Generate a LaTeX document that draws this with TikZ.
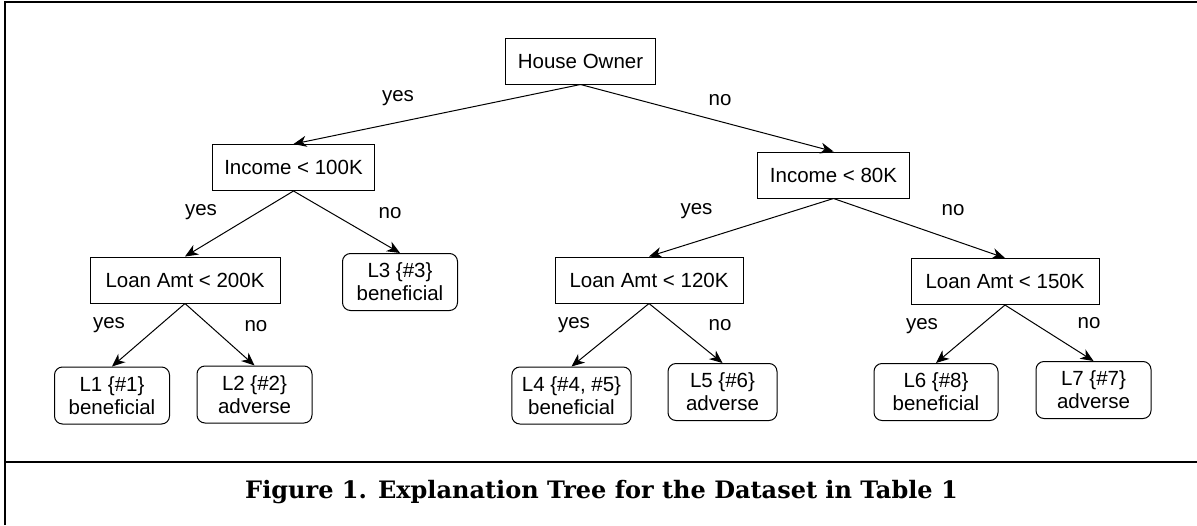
\documentclass[tikz,border=0pt]{standalone}
\usepackage{fontspec}
\setsansfont{Liberation Sans}
\newfontfamily\capfont{DejaVu Serif}
\usepackage{tikz}
\usetikzlibrary{arrows.meta}

\begin{document}
\begin{tikzpicture}[x=1pt, y=-1pt,
        test/.style={draw, line width=1pt, font=\sffamily\fontsize{20.5}{23}\selectfont, minimum height=46pt, inner xsep=12pt},
        leaf/.style={draw, line width=1pt, rounded corners=8pt, align=center, font=\sffamily\fontsize{20.5}{23}\selectfont, minimum width=115pt, minimum height=57pt, inner xsep=10pt},
        edge/.style={line width=1pt, -{Stealth[length=13pt, width=11pt, inset=4pt]}},
        lbl/.style={font=\sffamily\fontsize{20.5}{23}\selectfont, inner sep=0pt}]
        \useasboundingbox (0,0) rectangle (1197,525);

        % frame and caption
        \draw[line width=2.4pt] (5,525) -- (5,2) -- (1197,2);
        \draw[line width=2.4pt] (5,462) -- (1197,462);
        \node[font=\capfont\bfseries\fontsize{24}{28}\selectfont] (cap) at (601.5,492) {Figure 1. Explanation Tree for the Dataset in Table 1};

        % tests
        \node[test] (own) at (580.5,61) {House Owner};
        \node[test] (inc1) at (293.5,167.5) {Income < 100K};
        \node[test] (inc2) at (833.5,175) {Income < 80K};
        \node[test, minimum width=190pt] (loan1) at (185,280) {Loan Amt < 200K};
        \node[test, minimum width=188pt] (loan2) at (649,280) {Loan Amt < 120K};
        \node[test, minimum width=188pt] (loan3) at (1005,281.5) {Loan Amt < 150K};

        % leaves
        \node[leaf] (l1) at (112,395.5) {L1 \{\#1\}\\beneficial};
        \node[leaf] (l2) at (254.5,394.5) {L2 \{\#2\}\\adverse};
        \node[leaf] (l3) at (400,282) {L3 \{\#3\}\\beneficial};
        \node[leaf] (l4) at (571.5,395.5) {L4 \{\#4, \#5\}\\beneficial};
        \node[leaf, minimum width=109pt] (l5) at (722.5,392) {L5 \{\#6\}\\adverse};
        \node[leaf, minimum width=124pt] (l6) at (936,392) {L6 \{\#8\}\\beneficial};
        \node[leaf] (l7) at (1093.5,390) {L7 \{\#7\}\\adverse};

        \draw[edge] (own.south) -- (inc1.north) node[lbl] at (398,98) {yes};
        \draw[edge] (own.south) -- (inc2.north) node[lbl] at (720,100) {no};
        \draw[edge] (inc1.south) -- (loan1.north) node[lbl] at (201,212) {yes};
        \draw[edge] (inc1.south) -- (l3.north) node[lbl] at (390,213) {no};
        \draw[edge] (inc2.south) -- (loan2.north) node[lbl] at (696.5,211) {yes};
        \draw[edge] (inc2.south) -- (loan3.north) node[lbl] at (953,210) {no};
        \draw[edge] (loan1.south) -- (l1.north) node[lbl] at (109,325) {yes};
        \draw[edge] (loan1.south) -- (l2.north) node[lbl] at (256,326) {no};
        \draw[edge] (loan2.south) -- (l4.north) node[lbl] at (574,325) {yes};
        \draw[edge] (loan2.south) -- (l5.north) node[lbl] at (720,325) {no};
        \draw[edge] (loan3.south) -- (l6.north) node[lbl] at (922,326) {yes};
        \draw[edge] (loan3.south) -- (l7.north) node[lbl] at (1089,323) {no};
\end{tikzpicture}
\end{document}
